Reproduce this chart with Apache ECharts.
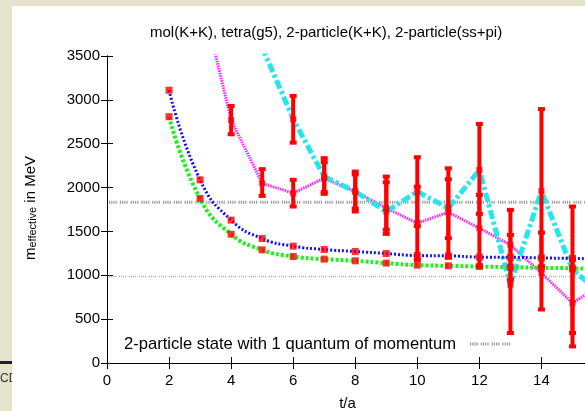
<!DOCTYPE html>
<html>
<head>
<meta charset="utf-8">
<script src="https://cdn.jsdelivr.net/npm/echarts@6/dist/echarts.min.js"></script>
<style>
  html, body { margin: 0; padding: 0; background: #e4e4cc; }
  #main { width: 585px; height: 411px; }
</style>
</head>
<body>
<div id="main"></div>
<script>
// t/a values for the fitted curves
const tFit = [2, 3, 4, 5, 6, 7, 8, 9, 10, 11, 12, 13, 14, 15, 16];
const molKK = [3110, 2088, 1629, 1419, 1332, 1294, 1271, 1248, 1225, 1222, 1207, 1205, 1198, 1192, 1185];
const tetraG5 = [2808, 1875, 1468, 1290, 1214, 1184, 1165, 1139, 1116, 1108, 1100, 1093, 1085, 1080, 1072];

// magenta (2-particle K+K) and cyan (2-particle ss+pi)
const tMag = [3, 4, 5, 6, 7, 8, 9, 10, 11, 12, 13, 14, 15, 16];
const magVals = [4250, 2770, 2050, 1936, 2107, 1954, 1765, 1594, 1719, 1537, 1347, 1025, 683, 910];
const magLow  = [null, 2608, 1905, 1784, 1928, 1727, 1472, 1176, 1200, 1100, 950, 610, 189, null];
const magHigh = [null, 2930, 2210, 2088, 2290, 2182, 2060, 2010, 2095, 1917, 1746, 1487, 1180, null];

const tCyan = [5, 6, 7, 8, 9, 10, 11, 12, 13, 14, 15, 16];
const cyanVals = [3600, 2780, 2125, 1954, 1727, 1954, 1765, 2201, 892, 1960, 1065, 770];
const cyanLow  = [null, 2512, 1950, 1760, 1520, 1560, 1423, 1700, 342, 1100, 342, null];
const cyanHigh = [null, 3045, 2335, 2150, 2125, 2346, 2220, 2725, 1460, 2895, 1784, null];

// 2-particle state levels
const stateLevels = [1833, 986];

const xTicks = { min: 0, max: 15.5, step: 2 };
const yTicks = { min: 0, max: 3500, step: 500 };

const FONT = "'Liberation Sans', Arial, sans-serif";

function pairs(xs, ys) { return xs.map((x, i) => [x, ys[i]]); }
function onPlot(xs, ys, lastT) { return pairs(xs, ys).filter(p => p[0] <= lastT && p[1] <= 3500); }
function bars(xs, lo, hi) {
  const out = [];
  xs.forEach((x, i) => { if (lo[i] != null) out.push([x, lo[i], hi[i]]); });
  return out;
}

function errRender(params, api) {
  const x = api.value(0);
  const p1 = api.coord([x, api.value(1)]);
  const p2 = api.coord([x, api.value(2)]);
  const st = { stroke: '#ff0000', lineWidth: 4 };
  return {
    type: 'group',
    children: [
      { type: 'line', shape: { x1: p1[0], y1: p1[1], x2: p2[0], y2: p2[1] }, style: st },
      { type: 'line', shape: { x1: p1[0] - 3.5, y1: p1[1], x2: p1[0] + 3.5, y2: p1[1] }, style: st },
      { type: 'line', shape: { x1: p2[0] - 3.5, y1: p2[1], x2: p2[0] + 3.5, y2: p2[1] }, style: st }
    ]
  };
}

// horizontal state level across the plot
function levelRender(params, api) {
  const v = api.value(0);
  const a = api.coord([xTicks.min, v]);
  const b = api.coord([xTicks.max, v]);
  const upper = params.dataIndex === 0;
  return {
    type: 'line',
    shape: { x1: a[0] + 2, y1: a[1], x2: b[0], y2: b[1] },
    style: upper
      ? { stroke: '#999999', lineWidth: 3, lineDash: [1.2, 1, 1.2, 1, 1.2, 1, 1.2, 3] }
      : { stroke: '#aaaaaa', lineWidth: 1.5, lineDash: [1, 1, 1, 1, 1, 1, 1, 3] }
  };
}

const myChart = echarts.init(document.getElementById('main'), null, { renderer: 'canvas' });

myChart.setOption({
  backgroundColor: '#e4e4cc',
  animation: false,
  textStyle: { fontFamily: FONT },
  title: {
    text: 'mol(K+K), tetra(g5), 2-particle(K+K), 2-particle(ss+pi)',
    left: 150, top: 25, padding: 0,
    textStyle: { fontSize: 15, fontWeight: 'normal', color: '#000', fontFamily: FONT }
  },
  graphic: [
    { type: 'text', z: -20, left: 0, top: 373, style: { text: 'CD', fontSize: 12, fill: '#333', fontFamily: FONT } },
    { type: 'rect', z: -20, shape: { x: 0, y: 361, width: 12, height: 3 }, style: { fill: '#1c1c3c' } },
    { type: 'rect', z: -10, shape: { x: 12, y: 6, width: 573, height: 405 }, style: { fill: '#ffffff' } },
    {
      type: 'text', x: 29, y: 208, rotation: Math.PI / 2,
      style: {
        text: '{a|m}{b|effective}{a| in MeV}',
        align: 'center', verticalAlign: 'middle', fill: '#000',
        rich: {
          a: { fontSize: 15, fontFamily: FONT, lineHeight: 18, verticalAlign: 'bottom' },
          b: { fontSize: 11, fontFamily: FONT, lineHeight: 12, padding: [6, 0, 0, 0], verticalAlign: 'bottom' }
        }
      }
    },
    {
      type: 'text', left: 124, top: 336,
      style: { text: '2-particle state with 1 quantum of momentum', fontSize: 16.6, fill: '#000', fontFamily: FONT }
    },
    {
      type: 'line', shape: { x1: 470, y1: 344, x2: 513, y2: 344 },
      style: { stroke: '#999999', lineWidth: 3, lineDash: [1.2, 1, 1.2, 1, 1.2, 1, 1.2, 3] }
    }
  ],
  grid: { left: 107, top: 56, width: 481, height: 307, outerBoundsMode: 'none' },
  xAxis: [
    {
      type: 'value', min: xTicks.min, max: xTicks.max, interval: xTicks.step,
      name: 't/a', nameLocation: 'middle', nameGap: 33,
      nameTextStyle: { fontSize: 15, color: '#000', fontFamily: FONT },
      axisLine: { lineStyle: { color: '#000', width: 1 } },
      axisTick: { inside: true, length: 6, lineStyle: { color: '#000' } },
      axisLabel: { fontSize: 15, color: '#000', margin: 10, showMaxLabel: false, fontFamily: FONT },
      splitLine: { show: false }
    },
    {
      type: 'value', position: 'top', min: xTicks.min, max: xTicks.max, interval: xTicks.step,
      axisLine: { lineStyle: { color: '#000', width: 1 } },
      axisTick: { inside: true, length: 6, lineStyle: { color: '#000' } },
      axisLabel: { show: false }, splitLine: { show: false }
    }
  ],
  yAxis: [
    {
      type: 'value', min: yTicks.min, max: yTicks.max, interval: yTicks.step,
      axisLine: { show: true, lineStyle: { color: '#000', width: 1 } },
      axisTick: { show: true, inside: true, length: 6, lineStyle: { color: '#000' } },
      axisLabel: { fontSize: 15, color: '#000', margin: 7, fontFamily: FONT, formatter: v => String(v) },
      splitLine: { show: false }
    },
    {
      type: 'value', position: 'right', min: yTicks.min, max: yTicks.max, interval: yTicks.step,
      axisLine: { show: true, lineStyle: { color: '#000', width: 1 } },
      axisTick: { show: true, inside: true, length: 6, lineStyle: { color: '#000' } },
      axisLabel: { show: false }, splitLine: { show: false }
    }
  ],
  series: [
    {
      type: 'custom', renderItem: levelRender, clip: true, silent: true,
      encode: { y: 0 }, data: stateLevels.map(v => [v]), z: 1
    },
    {
      name: '2-particle(K+K)', type: 'line', data: pairs(tMag, magVals), symbol: 'none',
      lineStyle: { color: '#ff22ff', width: 3, type: [1.5, 1] }
    },
    {
      name: '2-particle(ss+pi)', type: 'line', data: pairs(tCyan, cyanVals), symbol: 'none',
      lineStyle: { color: '#22e8ee', width: 5, type: [9, 3, 3, 3] }
    },
    {
      name: 'mol(K+K)', type: 'line', data: pairs(tFit, molKK), symbol: 'none',
      smooth: 0.5,
      lineStyle: { color: '#1010ff', width: 3, type: [2, 2] }
    },
    {
      name: 'tetra(g5)', type: 'line', data: pairs(tFit, tetraG5), symbol: 'none',
      smooth: 0.5,
      lineStyle: { color: '#22ee22', width: 4, type: [3, 2] }
    },
    {
      type: 'custom', renderItem: errRender, clip: true,
      encode: { x: 0, y: [1, 2] }, data: bars(tMag, magLow, magHigh), z: 5
    },
    {
      type: 'custom', renderItem: errRender, clip: true,
      encode: { x: 0, y: [1, 2] }, data: bars(tCyan, cyanLow, cyanHigh), z: 5
    },
    {
      type: 'scatter', symbol: 'rect', symbolSize: 7, z: 6,
      itemStyle: { color: '#ff0000' },
      data: onPlot(tFit, molKK, 15).concat(onPlot(tFit, tetraG5, 15))
    },
    {
      type: 'scatter', symbol: 'rect', symbolSize: 6, z: 6,
      itemStyle: { color: '#ff0000' },
      data: onPlot(tMag, magVals, 15).filter(p => p[0] >= 4).concat(onPlot(tCyan, cyanVals, 15).filter(p => p[0] >= 6))
    }
  ]
});

window.addEventListener('resize', () => { myChart.resize(); });
</script>
</body>
</html>
